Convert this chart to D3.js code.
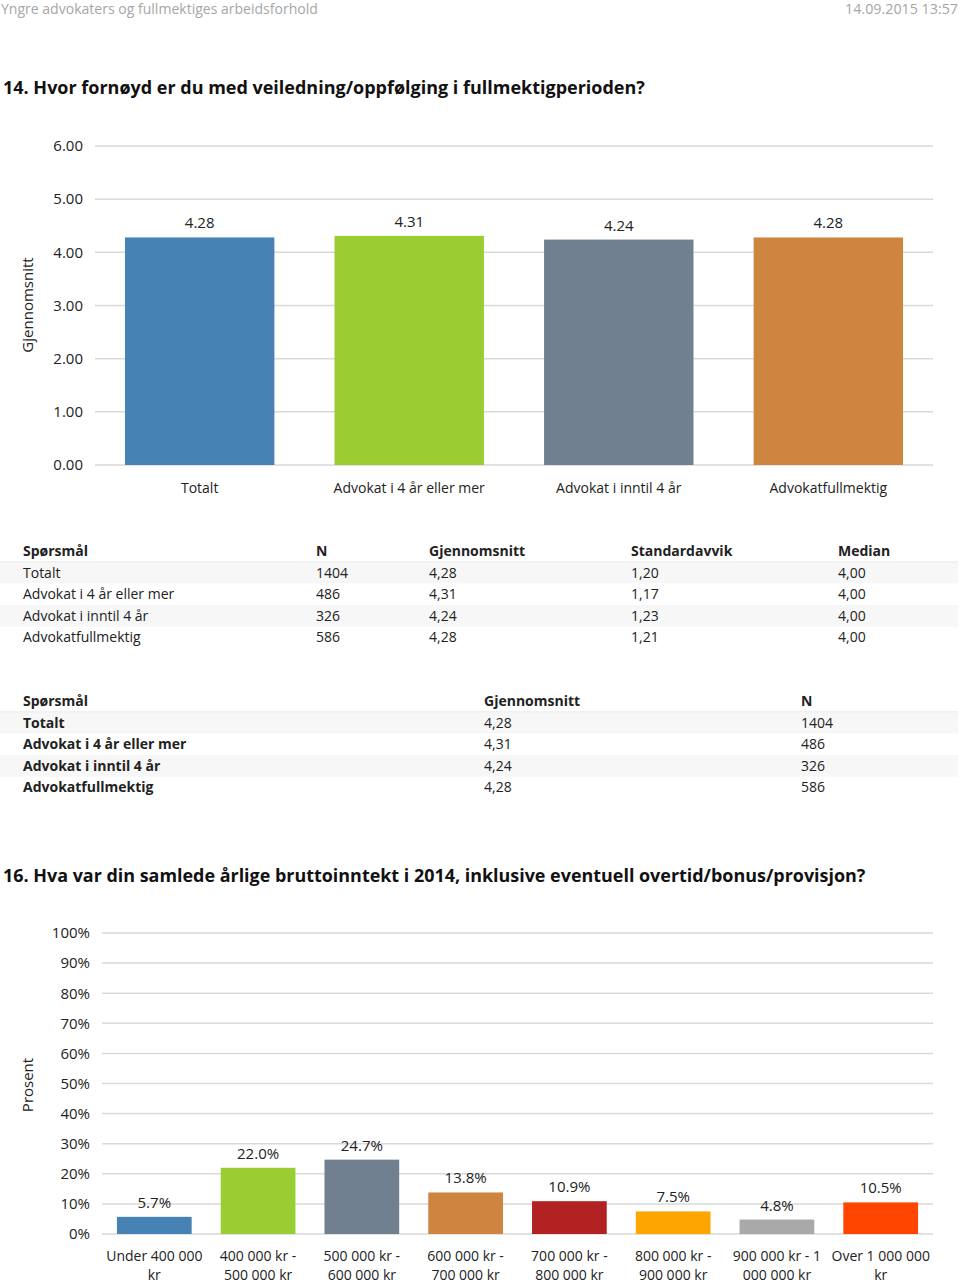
<!DOCTYPE html>
<html>
<head>
<meta charset="utf-8">
<script src="https://cdn.jsdelivr.net/npm/d3@7"></script>
<style>
  html, body { margin: 0; padding: 0; background: #fff; }
  svg { display: block; }
  text { font-family: "Open Sans", "DejaVu Sans", sans-serif; fill: #222; }
</style>
</head>
<body>
<svg id="page" width="960" height="1282"></svg>
<script>
// ---------- DATA ----------
const pageHeader = "Yngre advokaters og fullmektiges arbeidsforhold";
const pageDate = "14.09.2015 13:57";

const title1 = "14. Hvor fornøyd er du med veiledning/oppfølging i fullmektigperioden?";
const groups = ["Totalt", "Advokat i 4 år eller mer", "Advokat i inntil 4 år", "Advokatfullmektig"];
const means = [4.28, 4.31, 4.24, 4.28];
const counts = [1404, 486, 326, 586];
const stdDevs = [1.20, 1.17, 1.23, 1.21];
const medians = [4.00, 4.00, 4.00, 4.00];
const yTicks1 = [0, 1, 2, 3, 4, 5, 6];
const yTitle1 = "Gjennomsnitt";

const table1Headers = ["Spørsmål", "N", "Gjennomsnitt", "Standardavvik", "Median"];
const table2Headers = ["Spørsmål", "Gjennomsnitt", "N"];

const title2 = "16. Hva var din samlede årlige bruttoinntekt i 2014, inklusive eventuell overtid/bonus/provisjon?";
const incomeCats = [
  "Under 400 000\nkr",
  "400 000 kr -\n500 000 kr",
  "500 000 kr -\n600 000 kr",
  "600 000 kr -\n700 000 kr",
  "700 000 kr -\n800 000 kr",
  "800 000 kr -\n900 000 kr",
  "900 000 kr - 1\n000 000 kr",
  "Over 1 000 000\nkr"
];
const incomePct = [5.7, 22.0, 24.7, 13.8, 10.9, 7.5, 4.8, 10.5];
const yTicks2 = [0, 10, 20, 30, 40, 50, 60, 70, 80, 90, 100];
const yTitle2 = "Prosent";

// ---------- STYLE ----------
const colors1 = ["#4682B4", "#9ACD32", "#708090", "#CD853F"];
const colors2 = ["#4682B4", "#9ACD32", "#708090", "#CD853F", "#B22222", "#FFA500", "#A9A9A9", "#FF4500"];
const gridColor = "#d9d9d9";
const comma2 = v => d3.format(".2f")(v).replace(".", ",");

const svg = d3.select("#page");

function fitText(sel, width) {
  sel.each(function() {
    const w = this.getComputedTextLength();
    if (w > 0) {
      const fs = parseFloat(d3.select(this).style("font-size"));
      d3.select(this).style("font-size", (fs * width / w).toFixed(2) + "px");
    }
  });
}

// ---------- PAGE HEADER ----------
svg.append("text").attr("x", 1).attr("y", 14)
  .style("font-size", "14px").style("fill", "#a6a6a6")
  .text(pageHeader).call(fitText, 317);
svg.append("text").attr("x", 958).attr("y", 14).attr("text-anchor", "end")
  .style("font-size", "14px").style("fill", "#a6a6a6")
  .text(pageDate).call(fitText, 113);

// ---------- CHART 1 ----------
svg.append("text").attr("x", 3).attr("y", 94)
  .style("font-size", "19px").style("font-weight", "bold").style("fill", "#111")
  .style("font-family", "'Liberation Sans Narrow', 'Open Sans', sans-serif")
  .text(title1).call(fitText, 642);

const x1 = d3.scaleBand().domain(groups).range([95, 933]).paddingInner(0.287).paddingOuter(0.143);
const y1 = d3.scaleLinear().domain([0, 6]).range([465, 146]);

const g1 = svg.append("g");
g1.selectAll("line.grid").data(yTicks1).join("line")
  .attr("x1", 95).attr("x2", 933)
  .attr("y1", d => y1(d)).attr("y2", d => y1(d))
  .attr("stroke", gridColor).attr("stroke-width", 1.5);

const yAxis1 = d3.axisLeft(y1).tickValues(yTicks1).tickFormat(d3.format(".2f")).tickSize(0).tickPadding(0);
const ya1 = g1.append("g").attr("transform", "translate(83,0)").call(yAxis1);
ya1.select(".domain").remove();
ya1.selectAll("text").style("font-size", "15px").style("font-family", "'Open Sans', sans-serif").attr("fill", "#222");

g1.selectAll("rect.bar").data(groups).join("rect")
  .attr("x", d => x1(d)).attr("width", x1.bandwidth())
  .attr("y", (d, i) => y1(means[i])).attr("height", (d, i) => y1(0) - y1(means[i]))
  .attr("fill", (d, i) => colors1[i]);

g1.selectAll("text.val").data(groups).join("text")
  .attr("x", d => x1(d) + x1.bandwidth() / 2)
  .attr("y", (d, i) => y1(means[i]) - 9)
  .attr("text-anchor", "middle").style("font-size", "15px")
  .text((d, i) => d3.format(".2f")(means[i]));

const xAxis1 = d3.axisBottom(x1).tickSize(0).tickPadding(0);
const xa1 = g1.append("g").attr("transform", "translate(0,483)").call(xAxis1);
xa1.select(".domain").remove();
xa1.selectAll("text").style("font-size", "14px").style("font-family", "'Open Sans', sans-serif").attr("fill", "#222");

g1.append("text").attr("transform", "translate(33,305) rotate(-90)")
  .attr("text-anchor", "middle").style("font-size", "15px").text(yTitle1);

// ---------- TABLES ----------
function drawTable(top, headers, colX, rows, boldLabels) {
  const rowH = 21.6;
  const g = svg.append("g");
  rows.forEach((r, i) => {
    if (i % 2 === 0) {
      g.append("rect").attr("x", 0).attr("width", 958)
        .attr("y", top + (i + 1) * rowH - rowH / 2).attr("height", rowH)
        .attr("fill", "#f7f7f7");
    }
  });
  g.append("line").attr("x1", 0).attr("x2", 958)
    .attr("y1", top + rowH / 2).attr("y2", top + rowH / 2)
    .attr("stroke", "#ebebeb").attr("stroke-width", 1);
  headers.forEach((h, j) => {
    g.append("text").attr("x", colX[j]).attr("y", top + 5)
      .style("font-size", "14px").style("font-weight", "bold").text(h);
  });
  rows.forEach((r, i) => {
    r.forEach((c, j) => {
      g.append("text").attr("x", colX[j]).attr("y", top + (i + 1) * rowH + 5)
        .style("font-size", "14px")
        .style("font-weight", (boldLabels && j === 0) ? "bold" : "normal")
        .text(c);
    });
  });
}

drawTable(551, table1Headers, [23, 316, 429, 631, 838],
  groups.map((g, i) => [g, String(counts[i]), comma2(means[i]), comma2(stdDevs[i]), comma2(medians[i])]), false);

drawTable(701, table2Headers, [23, 484, 801],
  groups.map((g, i) => [g, comma2(means[i]), String(counts[i])]), true);

// ---------- CHART 2 ----------
svg.append("text").attr("x", 3).attr("y", 882)
  .style("font-size", "19px").style("font-weight", "bold").style("fill", "#111")
  .style("font-family", "'Liberation Sans Narrow', 'Open Sans', sans-serif")
  .text(title2).call(fitText, 863);

const x2 = d3.scaleBand().domain(incomeCats).range([102, 933]).paddingInner(0.28).paddingOuter(0.144);
const y2 = d3.scaleLinear().domain([0, 100]).range([1234, 933]);

const g2 = svg.append("g");
g2.selectAll("line.grid").data(yTicks2).join("line")
  .attr("x1", 102).attr("x2", 933)
  .attr("y1", d => y2(d)).attr("y2", d => y2(d))
  .attr("stroke", gridColor).attr("stroke-width", 1.5);

const yAxis2 = d3.axisLeft(y2).tickValues(yTicks2).tickFormat(d => d + "%").tickSize(0).tickPadding(0);
const ya2 = g2.append("g").attr("transform", "translate(90,0)").call(yAxis2);
ya2.select(".domain").remove();
ya2.selectAll("text").style("font-size", "15px").style("font-family", "'Open Sans', sans-serif").attr("fill", "#222");

g2.selectAll("rect.bar").data(incomeCats).join("rect")
  .attr("x", d => x2(d)).attr("width", x2.bandwidth())
  .attr("y", (d, i) => y2(incomePct[i])).attr("height", (d, i) => y2(0) - y2(incomePct[i]))
  .attr("fill", (d, i) => colors2[i]);

g2.selectAll("text.val").data(incomeCats).join("text")
  .attr("x", d => x2(d) + x2.bandwidth() / 2)
  .attr("y", (d, i) => y2(incomePct[i]) - 9)
  .attr("text-anchor", "middle").style("font-size", "15px")
  .text((d, i) => d3.format(".1f")(incomePct[i]) + "%");

const xAxis2 = d3.axisBottom(x2).tickSize(0).tickPadding(0).tickFormat(() => "");
const xa2 = g2.append("g").attr("transform", "translate(0,1234)").call(xAxis2);
xa2.select(".domain").remove();
xa2.selectAll(".tick").each(function(d) {
  const t = d3.select(this).append("text").attr("text-anchor", "middle")
    .style("font-size", "14px").style("font-family", "'Open Sans', sans-serif").attr("fill", "#222");
  d.split("\n").forEach((line, k) => {
    t.append("tspan").attr("x", 0).attr("y", 27 + k * 18.5).text(line);
  });
});

g2.append("text").attr("transform", "translate(33,1085) rotate(-90)")
  .attr("text-anchor", "middle").style("font-size", "15px").text(yTitle2);
</script>
</body>
</html>
